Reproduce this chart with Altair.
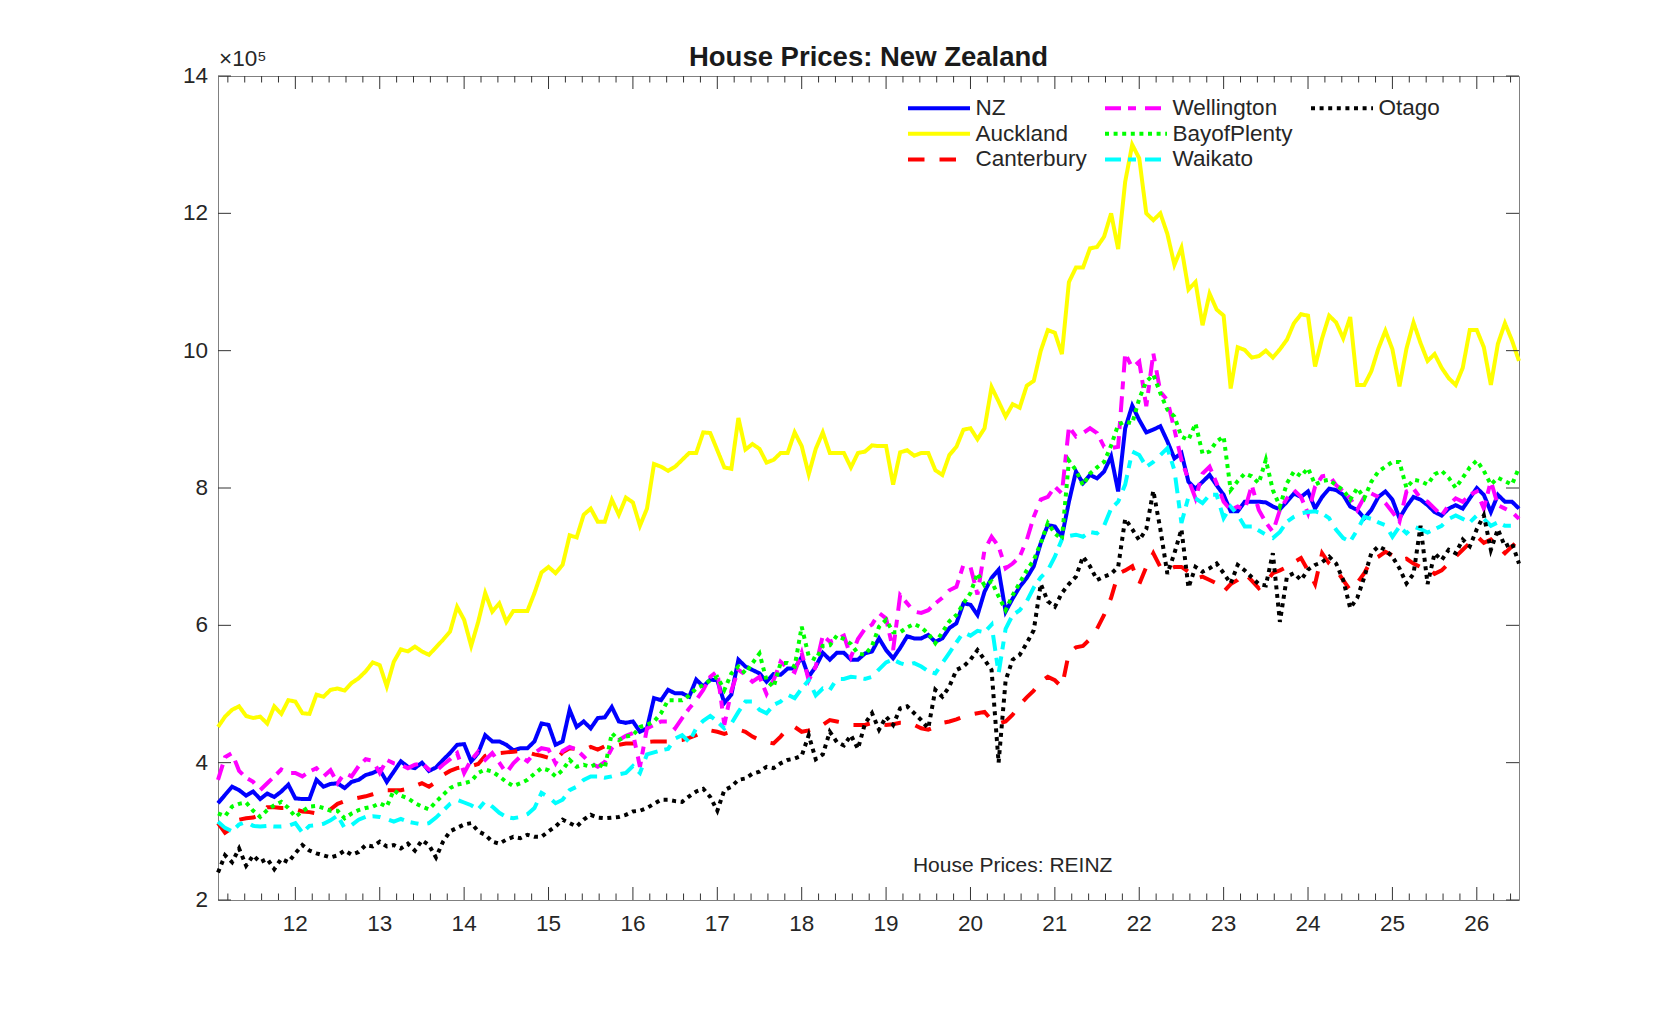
import altair as alt
import pandas as pd

# ---------------- data (median house prices, units of 1e5 NZD) ----------------
# monthly, Feb 2011 ... Jul 2026 (one row per calendar year)
NZ = [
    3.41, 3.53, 3.65, 3.60, 3.52, 3.58, 3.47, 3.55, 3.50, 3.58, 3.68,
    3.48, 3.47, 3.47, 3.75, 3.65, 3.69, 3.70, 3.63, 3.72, 3.75, 3.82, 3.85,
    3.90, 3.72, 3.87, 4.02, 3.94, 3.92, 4.00, 3.88, 3.93, 4.04, 4.14, 4.26,
    4.27, 4.02, 4.14, 4.40, 4.31, 4.31, 4.26, 4.18, 4.21, 4.21, 4.31, 4.57,
    4.55, 4.26, 4.31, 4.77, 4.52, 4.60, 4.50, 4.65, 4.66, 4.81, 4.60, 4.58,
    4.60, 4.45, 4.50, 4.94, 4.91, 5.06, 5.01, 5.01, 4.96, 5.21, 5.11, 5.21,
    5.20, 4.87, 4.99, 5.50, 5.40, 5.35, 5.30, 5.18, 5.29, 5.28, 5.37, 5.37,
    5.54, 5.25, 5.40, 5.60, 5.50, 5.60, 5.60, 5.50, 5.50, 5.59, 5.62, 5.81,
    5.64, 5.52, 5.67, 5.84, 5.81, 5.81, 5.86, 5.76, 5.81, 5.96, 6.03, 6.32,
    6.30, 6.15, 6.49, 6.69, 6.81, 6.20, 6.39, 6.56, 6.69, 6.86, 7.20, 7.46,
    7.44, 7.29, 7.80, 8.24, 8.07, 8.19, 8.14, 8.24, 8.46, 7.95, 8.87, 9.20,
    8.99, 8.81, 8.85, 8.90, 8.68, 8.43, 8.51, 8.09, 7.99, 8.09, 8.19, 8.04,
    7.90, 7.66, 7.66, 7.80, 7.80, 7.80, 7.79, 7.73, 7.69, 7.80, 7.92, 7.87,
    7.95, 7.70, 7.87, 7.99, 7.97, 7.90, 7.73, 7.68, 7.56, 7.68, 7.87, 7.95,
    7.83, 7.56, 7.73, 7.87, 7.83, 7.75, 7.65, 7.60, 7.70, 7.75, 7.70, 7.85,
    8.00, 7.90, 7.65, 7.90, 7.80, 7.80, 7.70,
]
AUCKLAND = [
    4.52, 4.67, 4.77, 4.82, 4.68, 4.65, 4.67, 4.57, 4.82, 4.71, 4.91,
    4.89, 4.72, 4.71, 4.99, 4.96, 5.06, 5.08, 5.05, 5.16, 5.23, 5.33, 5.46,
    5.42, 5.11, 5.47, 5.65, 5.62, 5.69, 5.62, 5.57, 5.68, 5.79, 5.91, 6.27,
    6.08, 5.70, 6.05, 6.47, 6.20, 6.32, 6.05, 6.21, 6.21, 6.21, 6.47, 6.77,
    6.85, 6.76, 6.88, 7.31, 7.28, 7.61, 7.70, 7.51, 7.51, 7.83, 7.61, 7.86,
    7.79, 7.45, 7.70, 8.35, 8.31, 8.25, 8.31, 8.41, 8.51, 8.51, 8.81, 8.80,
    8.55, 8.30, 8.28, 9.02, 8.56, 8.64, 8.57, 8.37, 8.41, 8.51, 8.51, 8.81,
    8.61, 8.20, 8.57, 8.81, 8.51, 8.51, 8.51, 8.30, 8.51, 8.53, 8.62, 8.61,
    8.61, 8.05, 8.52, 8.55, 8.47, 8.51, 8.51, 8.26, 8.19, 8.48, 8.60, 8.85,
    8.87, 8.71, 8.87, 9.47, 9.26, 9.04, 9.22, 9.17, 9.49, 9.56, 10.00, 10.30,
    10.26, 9.95, 11.00, 11.21, 11.21, 11.49, 11.51, 11.66, 12.00, 11.48, 12.46, 13.00,
    12.80, 12.00, 11.90, 12.00, 11.70, 11.25, 11.50, 10.89, 11.00, 10.37, 10.83, 10.60,
    10.51, 9.45, 10.05, 10.01, 9.90, 9.92, 10.00, 9.90, 10.02, 10.16, 10.40, 10.53,
    10.51, 9.77, 10.18, 10.51, 10.41, 10.18, 10.49, 9.50, 9.50, 9.70, 10.03, 10.29,
    10.02, 9.48, 10.03, 10.41, 10.11, 9.85, 9.95, 9.75, 9.60, 9.50, 9.75, 10.30,
    10.30, 10.05, 9.50, 10.10, 10.40, 10.15, 9.85,
]
CANTERBURY = [
    3.12, 2.98, 3.05, 3.17, 3.19, 3.20, 3.24, 3.35, 3.35, 3.34, 3.34,
    3.32, 3.29, 3.28, 3.26, 3.28, 3.32, 3.40, 3.44, 3.47, 3.49, 3.51, 3.54,
    3.57, 3.60, 3.60, 3.60, 3.62, 3.66, 3.70, 3.65, 3.72, 3.82, 3.88, 3.92,
    3.94, 3.95, 3.98, 4.10, 4.15, 4.14, 4.15, 4.16, 4.17, 4.15, 4.12, 4.10,
    4.07, 4.04, 4.15, 4.21, 4.20, 4.19, 4.23, 4.19, 4.24, 4.26, 4.26, 4.28,
    4.28, 4.28, 4.30, 4.31, 4.31, 4.31, 4.32, 4.33, 4.36, 4.40, 4.45, 4.47,
    4.45, 4.42, 4.45, 4.48, 4.45, 4.38, 4.33, 4.30, 4.28, 4.38, 4.50, 4.52,
    4.45, 4.47, 4.50, 4.55, 4.62, 4.60, 4.58, 4.55, 4.55, 4.55, 4.58, 4.57,
    4.55, 4.56, 4.58, 4.58, 4.55, 4.50, 4.48, 4.52, 4.58, 4.60, 4.63, 4.67,
    4.70, 4.72, 4.74, 4.62, 4.57, 4.60, 4.70, 4.84, 4.95, 5.05, 5.18, 5.25,
    5.20, 5.10, 5.60, 5.68, 5.70, 5.80, 5.95, 6.15, 6.40, 6.75, 6.80, 6.86,
    6.60, 6.85, 7.05, 6.85, 6.80, 6.85, 6.85, 6.78, 6.68, 6.71, 6.66, 6.61,
    6.49, 6.60, 6.66, 6.76, 6.65, 6.54, 6.62, 6.76, 6.80, 6.85, 6.92, 6.98,
    6.80, 6.60, 7.05, 6.90, 6.81, 6.66, 6.51, 6.62, 6.76, 6.95, 7.00, 7.07,
    7.02, 6.95, 6.97, 6.90, 6.85, 6.85, 6.75, 6.80, 6.90, 7.00, 7.10, 7.20,
    7.30, 7.20, 7.25, 7.15, 7.05, 7.15, 7.25,
]
WELLINGTON = [
    3.75, 4.08, 4.14, 3.88, 3.78, 3.72, 3.60, 3.70, 3.80, 3.90, 3.85,
    3.85, 3.80, 3.87, 3.92, 3.80, 3.89, 3.70, 3.85, 3.80, 3.95, 4.05, 4.03,
    3.85, 4.04, 3.99, 3.97, 3.92, 3.97, 3.99, 3.90, 3.88, 3.97, 4.05, 4.14,
    3.85, 4.04, 4.16, 4.04, 4.14, 4.00, 3.85, 3.99, 4.09, 4.02, 4.14, 4.21,
    4.19, 3.99, 4.17, 4.23, 4.19, 4.09, 3.99, 3.94, 4.01, 4.21, 4.33, 4.39,
    4.43, 3.94, 4.50, 4.55, 4.60, 4.60, 4.50, 4.65, 4.79, 4.91, 5.06, 5.25,
    5.33, 4.55, 5.05, 5.35, 5.28, 5.18, 5.25, 5.00, 5.20, 5.47, 5.38, 5.32,
    5.60, 5.20, 5.40, 5.85, 5.76, 5.80, 5.85, 5.54, 5.80, 5.95, 6.01, 6.18,
    6.10, 5.64, 6.44, 6.32, 6.20, 6.18, 6.22, 6.32, 6.40, 6.51, 6.56, 6.88,
    6.85, 6.45, 7.10, 7.29, 7.15, 6.83, 6.90, 7.00, 7.24, 7.58, 7.83, 7.87,
    8.02, 7.92, 8.89, 8.75, 8.80, 8.87, 8.80, 8.60, 8.58, 8.60, 9.96, 9.75,
    9.84, 9.19, 9.96, 9.40, 9.28, 8.85, 8.41, 8.12, 7.85, 8.21, 8.31, 8.07,
    7.80, 7.68, 7.73, 7.68, 8.04, 7.68, 7.50, 7.36, 7.68, 7.85, 7.97, 7.87,
    7.63, 8.02, 8.17, 8.19, 8.04, 7.95, 7.85, 7.68, 7.87, 7.92, 7.87, 7.78,
    7.65, 7.51, 7.95, 7.99, 7.85, 7.80, 7.70, 7.60, 7.75, 7.85, 7.80, 7.90,
    7.95, 7.70, 8.10, 7.75, 7.70, 7.65, 7.55,
]
BAY_OF_PLENTY = [
    3.26, 3.22, 3.36, 3.40, 3.42, 3.30, 3.21, 3.31, 3.38, 3.43, 3.34,
    3.21, 3.29, 3.36, 3.37, 3.34, 3.30, 3.30, 3.19, 3.26, 3.31, 3.34, 3.36,
    3.41, 3.36, 3.60, 3.52, 3.48, 3.41, 3.36, 3.32, 3.43, 3.53, 3.63, 3.68,
    3.70, 3.73, 3.85, 3.90, 3.87, 3.80, 3.72, 3.66, 3.70, 3.75, 3.84, 3.92,
    3.89, 3.80, 3.89, 4.04, 3.94, 3.97, 3.94, 3.99, 3.92, 4.43, 4.33, 4.38,
    4.40, 4.52, 4.55, 4.60, 4.72, 4.91, 4.91, 4.91, 4.98, 5.08, 5.13, 5.20,
    5.25, 5.06, 5.30, 5.40, 5.30, 5.45, 5.59, 5.20, 5.10, 5.45, 5.45, 5.40,
    5.98, 5.55, 5.50, 5.70, 5.71, 5.85, 5.80, 5.73, 5.59, 5.57, 5.70, 5.98,
    6.08, 5.90, 5.90, 5.97, 6.02, 5.97, 5.88, 5.74, 5.90, 6.06, 6.15, 6.32,
    6.47, 6.76, 6.58, 6.64, 6.42, 6.22, 6.44, 6.62, 6.80, 6.95, 7.20, 7.49,
    7.34, 7.25, 8.40, 8.26, 8.04, 8.21, 8.30, 8.38, 8.62, 8.92, 8.97, 8.94,
    9.30, 9.55, 9.65, 9.38, 9.14, 9.04, 8.75, 8.70, 8.94, 8.50, 8.53, 8.68,
    8.75, 7.97, 8.10, 8.21, 8.17, 8.07, 8.41, 7.97, 7.73, 8.07, 8.24, 8.17,
    8.29, 8.05, 8.10, 8.12, 8.04, 7.97, 7.83, 8.00, 7.85, 8.09, 8.24, 8.31,
    8.38, 8.38, 8.00, 8.12, 8.10, 8.05, 8.20, 8.25, 8.15, 8.00, 8.15, 8.30,
    8.40, 8.25, 8.05, 8.15, 8.10, 8.05, 8.30,
]
WAIKATO = [
    3.14, 3.05, 3.00, 3.10, 3.14, 3.08, 3.07, 3.08, 3.07, 3.07, 3.08,
    3.12, 2.98, 3.08, 3.09, 3.11, 3.16, 3.23, 3.05, 3.09, 3.17, 3.21, 3.22,
    3.21, 3.18, 3.14, 3.18, 3.14, 3.12, 3.10, 3.12, 3.20, 3.30, 3.40, 3.46,
    3.42, 3.38, 3.32, 3.44, 3.36, 3.27, 3.21, 3.19, 3.21, 3.25, 3.34, 3.56,
    3.50, 3.41, 3.46, 3.60, 3.65, 3.75, 3.80, 3.80, 3.78, 3.80, 3.83, 3.85,
    3.95, 3.85, 4.12, 4.15, 4.18, 4.20, 4.35, 4.40, 4.30, 4.50, 4.61, 4.68,
    4.60, 4.50, 4.57, 4.74, 4.89, 4.89, 4.77, 4.72, 4.84, 4.89, 4.99, 4.94,
    5.08, 5.20, 4.98, 5.08, 5.06, 5.22, 5.22, 5.25, 5.24, 5.22, 5.25, 5.36,
    5.46, 5.50, 5.45, 5.42, 5.45, 5.40, 5.33, 5.30, 5.45, 5.60, 5.75, 5.90,
    5.85, 5.92, 5.90, 6.01, 5.30, 5.95, 6.15, 6.22, 6.35, 6.55, 6.70, 6.80,
    7.00, 7.25, 7.30, 7.32, 7.29, 7.36, 7.34, 7.45, 7.70, 7.80, 8.05, 8.53,
    8.48, 8.31, 8.38, 8.48, 8.58, 8.26, 7.49, 7.87, 7.85, 7.78, 7.90, 7.90,
    7.56, 7.73, 7.61, 7.44, 7.44, 7.38, 7.32, 7.27, 7.36, 7.51, 7.58, 7.63,
    7.65, 7.66, 7.63, 7.56, 7.39, 7.27, 7.22, 7.39, 7.58, 7.55, 7.50, 7.46,
    7.29, 7.44, 7.34, 7.44, 7.40, 7.35, 7.40, 7.45, 7.55, 7.60, 7.55, 7.50,
    7.60, 7.55, 7.45, 7.50, 7.45, 7.45, 7.45,
]
OTAGO = [
    2.40, 2.65, 2.55, 2.75, 2.50, 2.65, 2.55, 2.60, 2.45, 2.60, 2.55,
    2.68, 2.80, 2.72, 2.68, 2.65, 2.62, 2.65, 2.72, 2.66, 2.70, 2.80, 2.78,
    2.85, 2.78, 2.80, 2.75, 2.82, 2.72, 2.87, 2.80, 2.62, 2.85, 3.00, 3.05,
    3.10, 3.12, 3.00, 2.95, 2.85, 2.82, 2.88, 2.92, 2.90, 2.95, 2.92, 2.92,
    3.00, 3.07, 3.17, 3.12, 3.07, 3.17, 3.24, 3.20, 3.19, 3.20, 3.21, 3.24,
    3.29, 3.30, 3.34, 3.40, 3.46, 3.46, 3.44, 3.43, 3.51, 3.58, 3.62, 3.50,
    3.30, 3.60, 3.65, 3.75, 3.77, 3.84, 3.87, 3.94, 3.92, 3.99, 4.04, 4.06,
    4.10, 4.40, 4.05, 4.12, 4.45, 4.30, 4.25, 4.40, 4.20, 4.57, 4.72, 4.48,
    4.67, 4.55, 4.79, 4.82, 4.72, 4.62, 4.50, 5.06, 4.96, 5.11, 5.35, 5.40,
    5.50, 5.64, 5.50, 5.35, 4.00, 5.20, 5.50, 5.57, 5.74, 5.93, 6.60, 6.35,
    6.27, 6.47, 6.60, 6.71, 7.00, 6.86, 6.66, 6.71, 6.75, 6.85, 7.55, 7.40,
    7.24, 7.40, 7.96, 7.40, 6.75, 7.05, 7.40, 6.55, 6.85, 6.78, 6.83, 6.90,
    6.76, 6.61, 6.88, 6.80, 6.70, 6.60, 6.58, 7.05, 6.05, 6.71, 6.76, 6.66,
    6.81, 6.88, 6.92, 7.00, 6.90, 6.66, 6.25, 6.40, 6.70, 7.05, 7.15, 7.10,
    7.00, 6.83, 6.61, 6.75, 7.45, 6.60, 7.05, 6.95, 7.10, 7.05, 7.25, 7.15,
    7.40, 7.60, 7.10, 7.40, 7.15, 7.20, 6.90,
]

SERIES = {
    "NZ": NZ,
    "Auckland": AUCKLAND,
    "Canterbury": CANTERBURY,
    "Wellington": WELLINGTON,
    "BayofPlenty": BAY_OF_PLENTY,
    "Waikato": WAIKATO,
    "Otago": OTAGO,
}
N_MONTHS = 186
for _name, _vals in SERIES.items():
    assert len(_vals) == N_MONTHS, (_name, len(_vals))

X_TICKS = list(range(12, 27))          # labelled 12 ... 26 (two-digit years)
Y_TICKS = [2, 4, 6, 8, 10, 12, 14]
TITLE = "House Prices: New Zealand"
NOTE = "House Prices: REINZ"
NOTE_X, NOTE_Y = 20.5, 2.5
EXPONENT = "×10⁵"

# ---------------- styling ----------------
FONT = "Liberation Sans, Arial, Helvetica, sans-serif"
TEXT = "#262626"
TICK = "#333333"
FRAME = "#808080"
W, H = 1301, 824
LW = 4
FS = 22.5
DOT = [4, 4.6]
DASHDOT = [16, 7, 8, 9]
DASH = [16.5, 15]

NAMES = ["NZ", "Auckland", "Canterbury", "Wellington", "BayofPlenty", "Waikato", "Otago"]
COLORS = ["#0000ff", "#ffff00", "#ff0000", "#ff00ff", "#00ff00", "#00ffff", "#000000"]
DASHES = [[1, 0], [1, 0], DASH, DASHDOT, DOT, DASHDOT, DOT]
# legend: 3 rows filled column by column; a blank slot completes the grid
LEG_DOMAIN = NAMES + [" "]
LEG_COLORS = COLORS + ["#ffffff"]
LEG_DASHES = DASHES + [[1, 0]]

# ---------------- frame ----------------
months = pd.date_range("2011-02-01", periods=N_MONTHS, freq="MS")
tpos = [(d.year - 2000) + (d.month - 1) / 12 for d in months]
rows = []
for name, vals in SERIES.items():
    for tx, v in zip(tpos, vals):
        rows.append({"t": tx, "price": v, "series": name})
df = pd.DataFrame(rows)

x_scale = alt.Scale(domain=[tpos[0], tpos[-1]], nice=False, zero=False)
y_scale = alt.Scale(domain=[2, 14], nice=False, zero=False)

legend = alt.Legend(title=None, orient="none", legendX=688, legendY=22, columns=3,
                    symbolType="stroke", symbolSize=3844, symbolStrokeWidth=LW,
                    clipHeight=20, rowPadding=2.7, columnPadding=16,
                    labelFontSize=FS, labelFont=FONT, labelColor=TEXT,
                    labelOffset=3.5, padding=0, labelLimit=0, gridAlign="each")

color_scale = alt.Scale(domain=LEG_DOMAIN, range=LEG_COLORS)
dash_scale = alt.Scale(domain=LEG_DOMAIN, range=LEG_DASHES)

layers = []
for name in NAMES:
    layers.append(
        alt.Chart(df).transform_filter(alt.datum.series == name)
        .mark_line(strokeWidth=LW, strokeCap="butt", strokeJoin="miter")
        .encode(
            x=alt.X("t:Q", scale=x_scale, axis=None),
            y=alt.Y("price:Q", scale=y_scale, axis=None),
            color=alt.Color("series:N", scale=color_scale, legend=legend),
            strokeDash=alt.StrokeDash("series:N", scale=dash_scale, legend=legend),
        )
    )

# inward MATLAB-style ticks
minor = [round(y + k / 5, 1) for y in range(11, 27) for k in range(1, 5)
         if tpos[0] <= y + k / 5 <= tpos[-1]]
xmaj = pd.DataFrame({"v": X_TICKS})
xmin = pd.DataFrame({"v": minor})
ytk = pd.DataFrame({"v": Y_TICKS})


def xticks(data, length, bottom):
    y0 = H if bottom else 0
    y1 = H - length if bottom else length
    return alt.Chart(data).mark_rule(color=TICK, strokeWidth=1).encode(
        x=alt.X("v:Q", scale=x_scale, axis=None), y=alt.value(y0), y2=alt.value(y1))


def yticks(left):
    x0, x1 = (0, 13) if left else (W - 13, W)
    return alt.Chart(ytk).mark_rule(color=TICK, strokeWidth=1).encode(
        y=alt.Y("v:Q", scale=y_scale, axis=None), x=alt.value(x0), x2=alt.value(x1))


ticks = [xticks(xmaj, 13, True), xticks(xmaj, 13, False),
         xticks(xmin, 6.5, True), xticks(xmin, 6.5, False),
         yticks(True), yticks(False)]

# tick labels (positioned through the scales)
xlab = alt.Chart(xmaj).mark_text(font=FONT, fontSize=FS, color=TEXT, align="center",
                                 baseline="alphabetic").encode(
    x=alt.X("v:Q", scale=x_scale, axis=None), y=alt.value(H + 31),
    text=alt.Text("v:Q", format="d"))
ylab = alt.Chart(ytk).mark_text(font=FONT, fontSize=FS, color=TEXT, align="right",
                                baseline="middle").encode(
    y=alt.Y("v:Q", scale=y_scale, axis=None), x=alt.value(-10),
    text=alt.Text("v:Q", format="d"))
expo = alt.Chart(pd.DataFrame({"label": [EXPONENT]})).mark_text(
    font=FONT, fontSize=FS, color=TEXT, align="left", baseline="alphabetic"
).encode(x=alt.value(1), y=alt.value(-10), text="label:N")

note = alt.Chart(pd.DataFrame({"x": [NOTE_X], "y": [NOTE_Y], "label": [NOTE]})).mark_text(
    font=FONT, fontSize=21, color=TEXT, align="center", baseline="middle"
).encode(x=alt.X("x:Q", scale=x_scale, axis=None),
         y=alt.Y("y:Q", scale=y_scale, axis=None), text="label:N")

chart = alt.layer(*layers, *ticks, xlab, ylab, expo, note).properties(
    width=W, height=H,
    autosize=alt.AutoSizeParams(type="none"),
    padding={"left": 210, "top": 68, "right": 150, "bottom": 100},
    title=alt.TitleParams(TITLE, fontSize=27.5, fontWeight="bold", font=FONT,
                          color="#1a1a1a", anchor="middle", frame="group",
                          baseline="alphabetic", offset=-45),
    background="white",
).configure_view(stroke=FRAME, strokeWidth=1)

chart.save("out.html", embed_options={"renderer": "svg", "actions": False})
